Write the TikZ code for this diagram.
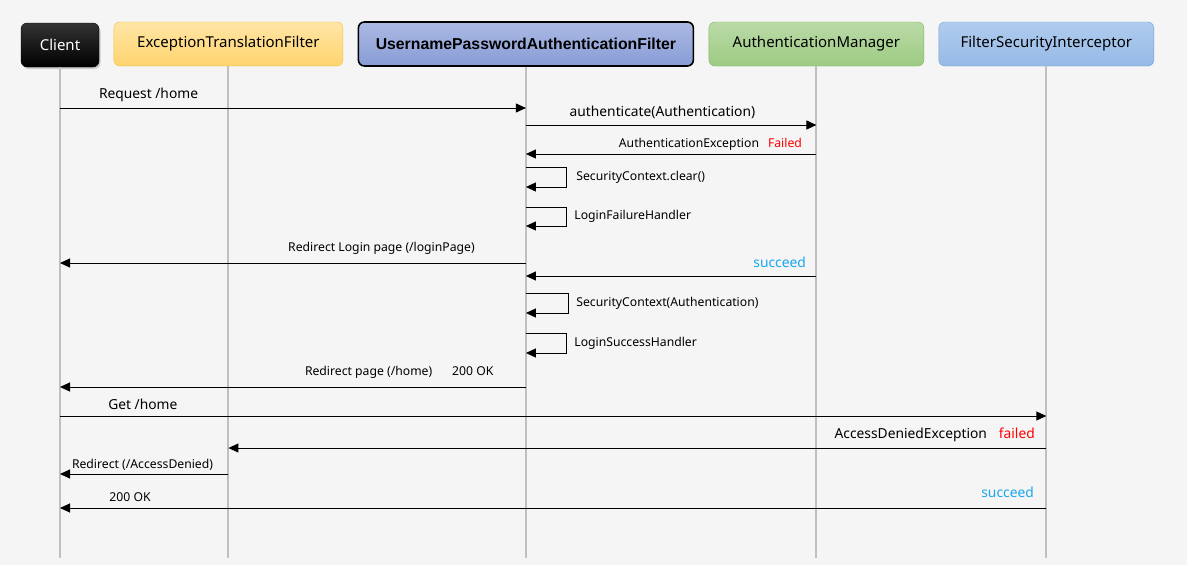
\documentclass[tikz,border=0pt]{standalone}
\usepackage{fontspec}
\setmainfont{Noto Sans}
\newfontfamily\heavyfont{Liberation Sans}
\usetikzlibrary{positioning, arrows.meta, shadows}

\definecolor{bgcol}{HTML}{F5F5F5}
\definecolor{lifegray}{HTML}{C0C0C0}
\definecolor{failred}{HTML}{FF0000}
\definecolor{okblue}{HTML}{1AA7EC}
\definecolor{transtop}{HTML}{FFE5A6}
\definecolor{transbot}{HTML}{FFD46E}
\definecolor{transline}{HTML}{F3C037}
\definecolor{filtertop}{HTML}{ABBAE4}
\definecolor{filterbot}{HTML}{889CD5}
\definecolor{managertop}{HTML}{BBDAA8}
\definecolor{managerbot}{HTML}{9CCB82}
\definecolor{managerline}{HTML}{7DB75E}
\definecolor{intertop}{HTML}{B0CCEE}
\definecolor{interbot}{HTML}{96BAE6}
\definecolor{interline}{HTML}{6FA1DB}

\begin{document}
\begin{tikzpicture}[x=1pt, y=-1pt,
    actor/.style={rounded corners=6pt, minimum height=44pt, inner sep=0pt,
      font=\fontsize{15}{17}\selectfont},
    lifeline/.style={draw=lifegray, line width=2pt},
    msg/.style={draw=black, line width=1pt,
      -{Triangle[length=10pt, width=9pt]}},
    lbl/.style={font=\fontsize{13.8}{16}\selectfont, inner sep=0pt},
    smalllbl/.style={font=\fontsize{12.2}{14}\selectfont, inner sep=0pt},
    node distance=14.5pt]

        \fill[bgcol] (0,0) rectangle (1187,565);
        \useasboundingbox (0,0) rectangle (1187,565);

        % participants
        \node[actor, draw=black, top color=black!80, bottom color=black,
        text=white, minimum width=78pt,
        drop shadow={opacity=0.35, shadow xshift=1.5pt, shadow yshift=-2pt}]
        (client) at (60,45) {Client};

        \node[actor, draw=transline, top color=transtop, bottom color=transbot,
        minimum width=229pt, right=of client, yshift=1pt] (translation)
        {ExceptionTranslationFilter};

        \node[actor, draw=black, line width=1.6pt, top color=filtertop,
        bottom color=filterbot, minimum width=335pt,
        font=\fontsize{15.8}{18}\selectfont\heavyfont\bfseries,
        right=of translation] (usernamefilter)
        {UsernamePasswordAuthenticationFilter};

        \node[actor, draw=managerline, top color=managertop,
        bottom color=managerbot, minimum width=215pt,
        right=of usernamefilter] (manager) {AuthenticationManager};

        \node[actor, draw=interline, top color=intertop, bottom color=interbot,
        minimum width=215pt, right=of manager] (interceptor)
        {FilterSecurityInterceptor};

        % lifelines
        \foreach \who in {client, translation, usernamefilter, manager, interceptor}
          \draw[lifeline] (\who.south) -- (\who |- 0,558);

        % login attempt
        \draw[msg] (client |- 0,108) -- (usernamefilter |- 0,108)
          node[lbl, pos=0.19, above=6pt] {Request /home};

        \draw[msg] (usernamefilter |- 0,125) -- (manager |- 0,125)
          node[lbl, pos=0.47, above=6pt] {authenticate(Authentication)};

        % failure branch
        \draw[msg] (manager |- 0,154) -- (usernamefilter |- 0,154)
          node[smalllbl, pos=0, anchor=south east, xshift=-14pt, yshift=3pt]
          {AuthenticationException\hspace{9pt}\textcolor{failred}{Failed}};

        \draw[msg] (usernamefilter |- 0,167) -- ++(41,0) -- ++(0,20)
          node[smalllbl, midway, right=9pt] {SecurityContext.clear()}
          -- (usernamefilter |- 0,187);

        \draw[msg] (usernamefilter |- 0,207) -- ++(41,0) -- ++(0,19)
          node[smalllbl, midway, right=7pt] {LoginFailureHandler}
          -- (usernamefilter |- 0,226);

        \draw[msg] (usernamefilter |- 0,263) -- (client |- 0,263)
          node[smalllbl, pos=0.31, above=8pt] {Redirect Login page (/loginPage)};

        % success branch
        \draw[msg] (manager |- 0,276) -- (usernamefilter |- 0,276)
          node[lbl, pos=0, anchor=south east, xshift=-10pt, yshift=8pt,
          text=okblue] {succeed};

        \draw[msg] (usernamefilter |- 0,293) -- ++(43,0) -- ++(0,20)
          node[smalllbl, midway, right=7pt] {SecurityContext(Authentication)}
          -- (usernamefilter |- 0,313);

        \draw[msg] (usernamefilter |- 0,333) -- ++(41,0) -- ++(0,20)
          node[smalllbl, midway, right=7pt] {LoginSuccessHandler}
          -- (usernamefilter |- 0,353);

        \draw[msg] (usernamefilter |- 0,387) -- (client |- 0,387)
          node[smalllbl, pos=0, anchor=south east, xshift=-32pt, yshift=8pt]
          {Redirect page (/home)\hspace{20pt}200 OK};

        % access check
        \draw[msg] (client |- 0,416) -- (interceptor |- 0,416)
          node[lbl, pos=0.084, above=6pt] {Get /home};

        \draw[msg] (interceptor |- 0,448) -- (translation |- 0,448)
          node[lbl, pos=0, anchor=south east, xshift=-11pt, yshift=6pt]
          {AccessDeniedException\hspace{12pt}\textcolor{failred}{failed}};

        \draw[msg] (translation |- 0,474) -- (client |- 0,474)
          node[smalllbl, pos=0.51, above=3pt] {Redirect (/AccessDenied)};

        \draw[msg] (interceptor |- 0,508) -- (client |- 0,508)
          node[smalllbl, pos=0.929, above=6pt] {200 OK}
          node[lbl, pos=0, anchor=south east, xshift=-12pt, yshift=10pt,
          text=okblue] {succeed};
      \end{tikzpicture}
\end{document}
